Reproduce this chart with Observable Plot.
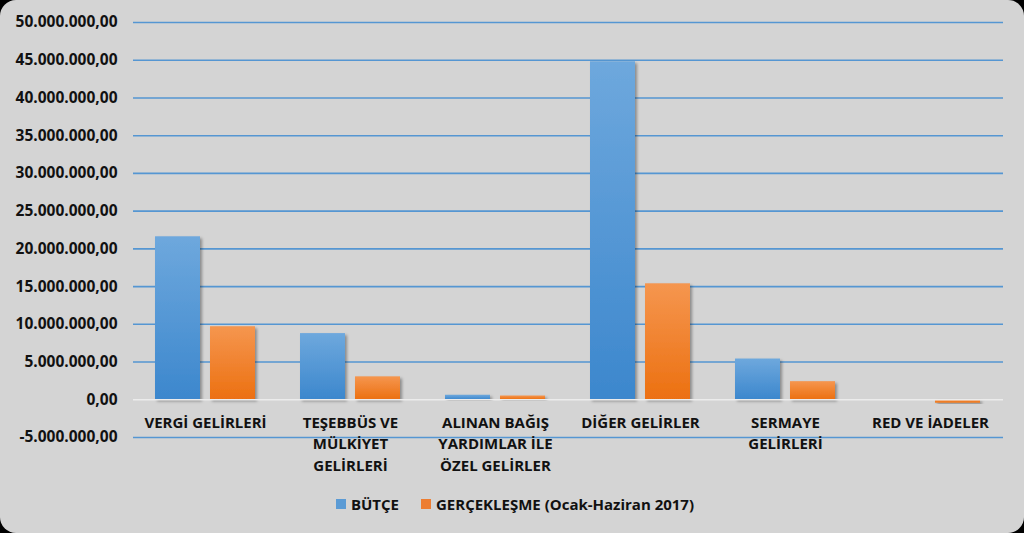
<!DOCTYPE html>
<html>
<head>
<meta charset="utf-8">
<script src="https://cdn.jsdelivr.net/npm/d3@7"></script>
<script src="https://cdn.jsdelivr.net/npm/@observablehq/plot@0.6"></script>
<style>
  html, body { margin: 0; padding: 0; background: #000; }
  #wrap { width: 1024px; height: 533px; background: #d4d4d4; border-radius: 16px; overflow: hidden; position: relative; }
  #chart svg { display: block; }
  #legend { position: absolute; top: 493px; left: 3px; width: 1024px; text-align: center; font: bold 15px "Open Sans", sans-serif; color: #111; }
  #legend span.item { display: inline-flex; align-items: center; margin: 0 11px; }
  #legend span.sw { display: inline-block; width: 10px; height: 10px; margin-right: 5px; }
</style>
</head>
<body>
<div id="wrap">
  <div id="chart"></div>
  <div id="legend"></div>
</div>
<script>
const categories = ["VERGİ GELİRLERİ", "TEŞEBBÜS VE MÜLKİYET GELİRLERİ", "ALINAN BAĞIŞ YARDIMLAR İLE ÖZEL GELİRLER", "DİĞER GELİRLER", "SERMAYE GELİRLERİ", "RED VE İADELER"];
const categoryLabels = ["VERGİ GELİRLERİ", "TEŞEBBÜS VE\nMÜLKİYET\nGELİRLERİ", "ALINAN BAĞIŞ\nYARDIMLAR İLE\nÖZEL GELİRLER", "DİĞER GELİRLER", "SERMAYE\nGELİRLERİ", "RED VE İADELER"];
const seriesNames = ["BÜTÇE", "GERÇEKLEŞME (Ocak-Haziran 2017)"];
const budget = [21600000, 8770000, 600000, 44800000, 5400000, -60000];
const actual = [9680000, 3040000, 500000, 15370000, 2400000, -450000];
const yTicks = [-5000000, 0, 5000000, 10000000, 15000000, 20000000, 25000000, 30000000, 35000000, 40000000, 45000000, 50000000];
const seriesColors = ["#5b9bd5", "#ed7d31"];

const budgetRows = categories.map((c, i) => ({cat: c, series: seriesNames[0], value: budget[i]}));
const actualRows = categories.map((c, i) => ({cat: c, series: seriesNames[1], value: actual[i]}));
const labelRows = categories.map((c, i) => ({cat: c, label: categoryLabels[i]}));

const trFormat = d3.formatLocale({decimal: ",", thousands: ".", grouping: [3], currency: ["", ""], minus: "-"}).format(",.2f");

const plot = Plot.plot({
  width: 1024,
  height: 480,
  marginLeft: 133,
  marginRight: 21,
  marginTop: 22,
  marginBottom: 43,
  style: {background: "transparent", fontFamily: "'Open Sans', sans-serif"},
  x: {domain: categories, paddingInner: 0.31, paddingOuter: 0.155, axis: null},
  y: {domain: [-5000000, 50000000], axis: null},
  marks: [
    Plot.ruleY(yTicks.filter(d => d !== 0), {stroke: "#5596d2", strokeWidth: 1.6}),
    Plot.axisY(yTicks, {tickSize: 0, tickPadding: 16, tickFormat: trFormat, fontSize: 15.5, fontWeight: "bold", fill: "#111", label: null}),
    Plot.barY(budgetRows, {x: "cat", y: "value", fill: "url(#gBlue)", insetRight: 55, className: "shadowbar"}),
    Plot.barY(actualRows, {x: "cat", y: "value", fill: "url(#gOrange)", insetLeft: 55, className: "shadowbar"}),
    Plot.ruleY([0], {stroke: "#ececec", strokeWidth: 1.5}),
    Plot.text(labelRows, {x: "cat", y: () => 0, text: "label", lineAnchor: "top", dy: 13, lineHeight: 1.43, fontSize: 15, fontWeight: "bold", fill: "#111"})
  ]
});

const svg = d3.select(plot);
const defs = svg.insert("defs", ":first-child");
const gb = defs.append("linearGradient").attr("id", "gBlue").attr("x1", 0).attr("y1", 0).attr("x2", 0).attr("y2", 1);
gb.append("stop").attr("offset", "0%").attr("stop-color", "#6ea8dd");
gb.append("stop").attr("offset", "100%").attr("stop-color", "#3c87cd");
const go = defs.append("linearGradient").attr("id", "gOrange").attr("x1", 0).attr("y1", 0).attr("x2", 0).attr("y2", 1);
go.append("stop").attr("offset", "0%").attr("stop-color", "#f5964f");
go.append("stop").attr("offset", "100%").attr("stop-color", "#ec7011");
const f = defs.append("filter").attr("id", "shadow").attr("x", "-20%").attr("y", "-20%").attr("width", "150%").attr("height", "150%");
f.append("feDropShadow").attr("dx", 2).attr("dy", 2).attr("stdDeviation", 1.8).attr("flood-color", "#000").attr("flood-opacity", 0.35);
svg.selectAll(".shadowbar rect").attr("filter", "url(#shadow)");

document.getElementById("chart").appendChild(plot);

const legend = d3.select("#legend");
seriesNames.forEach((s, i) => {
  const item = legend.append("span").attr("class", "item");
  item.append("span").attr("class", "sw").style("background", seriesColors[i]);
  item.append("span").text(s);
});
</script>
</body>
</html>
